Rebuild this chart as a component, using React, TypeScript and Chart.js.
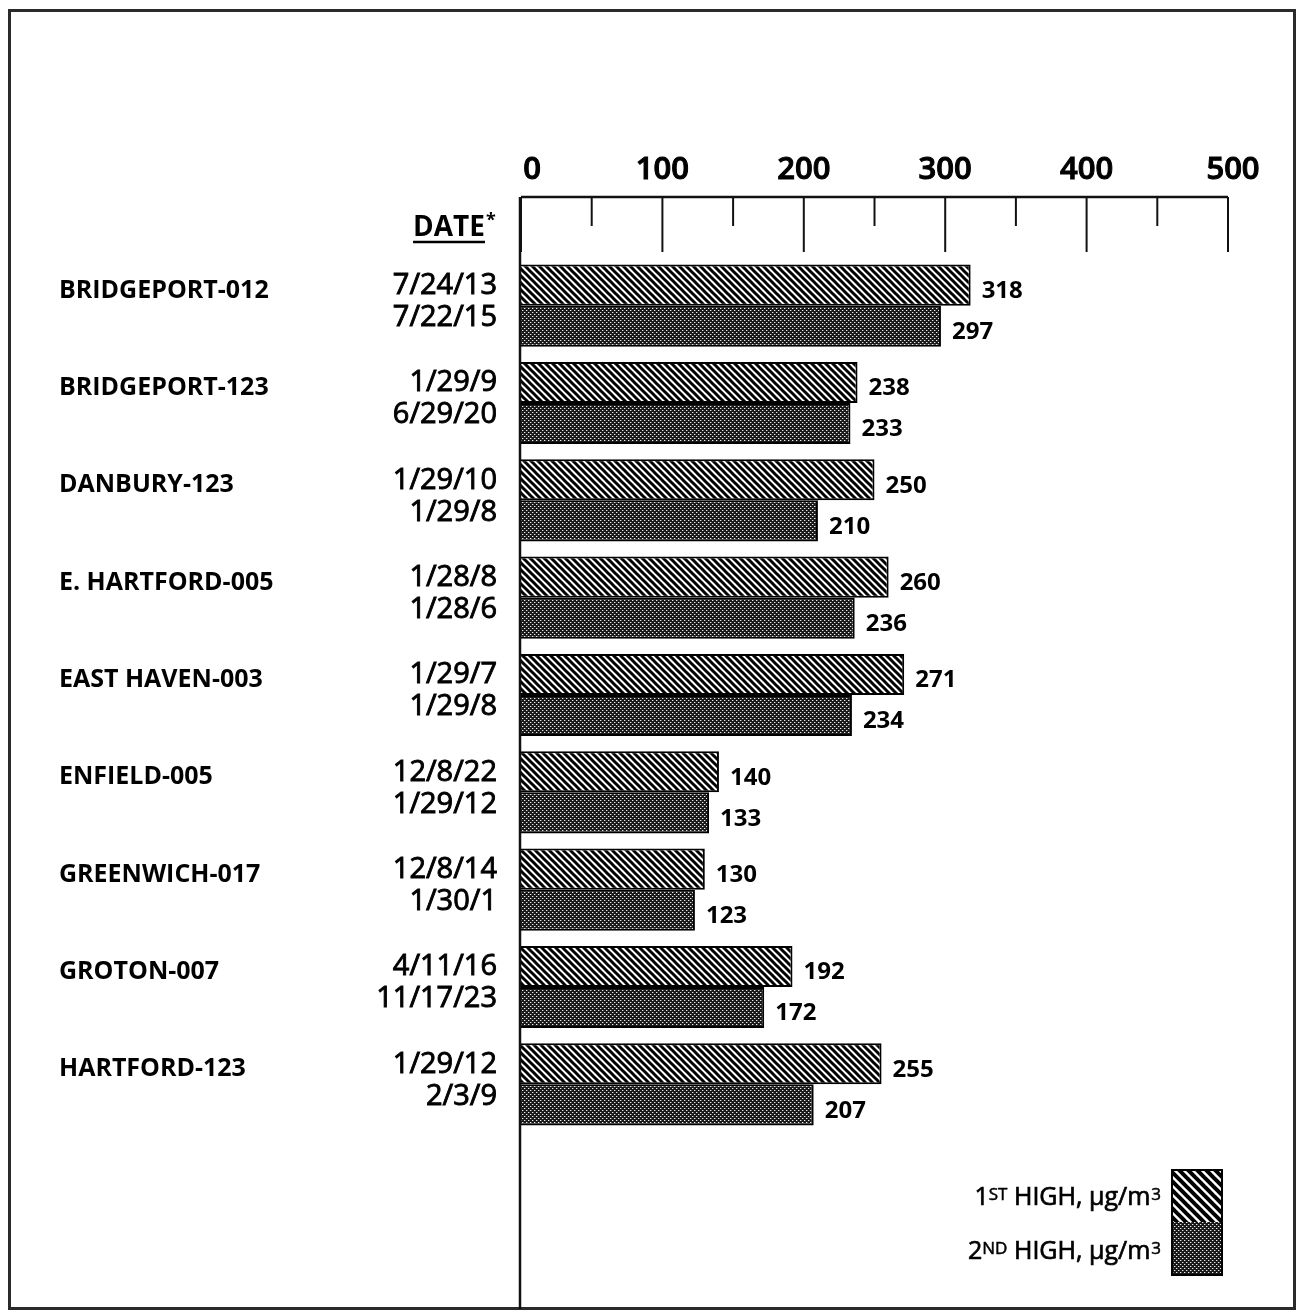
import { useEffect, useRef } from 'react';
import { Chart, registerables } from 'chart.js';

Chart.register(...registerables);

const stations = [
  'BRIDGEPORT-012',
  'BRIDGEPORT-123',
  'DANBURY-123',
  'E. HARTFORD-005',
  'EAST HAVEN-003',
  'ENFIELD-005',
  'GREENWICH-017',
  'GROTON-007',
  'HARTFORD-123',
];
const firstHigh = [318, 238, 250, 260, 271, 140, 130, 192, 255];
const secondHigh = [297, 233, 210, 236, 234, 133, 123, 172, 207];
const firstDates = ['7/24/13', '1/29/9', '1/29/10', '1/28/8', '1/29/7', '12/8/22', '12/8/14', '4/11/16', '1/29/12'];
const secondDates = ['7/22/15', '6/29/20', '1/29/8', '1/28/6', '1/29/8', '1/29/12', '1/30/1', '11/17/23', '2/3/9'];
const rulerMajor = [0, 100, 200, 300, 400, 500];
const rulerMinor = [50, 150, 250, 350, 450];
const legendLabels = [
  { lead: '1', sup: 'ST', rest: ' HIGH, µg/m', unit: '3' },
  { lead: '2', sup: 'ND', rest: ' HIGH, µg/m', unit: '3' },
];
const dateHeader = 'DATE';

const FONT = '"Open Sans", "DejaVu Sans", sans-serif';

function makeHatch(s: number, lw: number): CanvasPattern | string {
  const c = document.createElement('canvas');
  c.width = s;
  c.height = s;
  const g = c.getContext('2d');
  if (!g) return '#888';
  g.fillStyle = '#ffffff';
  g.fillRect(0, 0, s, s);
  g.strokeStyle = '#000000';
  g.lineWidth = lw;
  for (const k of [-s, 0, s]) {
    g.beginPath();
    g.moveTo(k - 2, -2);
    g.lineTo(k + s + 2, s + 2);
    g.stroke();
  }
  return g.createPattern(c, 'repeat') || '#888';
}

function makeStipple(): CanvasPattern | string {
  const s = 4;
  const c = document.createElement('canvas');
  c.width = s;
  c.height = s;
  const g = c.getContext('2d');
  if (!g) return '#444';
  g.fillStyle = '#1a1a1a';
  g.fillRect(0, 0, s, s);
  g.fillStyle = '#eeeeee';
  g.fillRect(0, 0, 1, 1);
  g.fillRect(2, 2, 1, 1);
  g.fillStyle = '#606060';
  g.fillRect(1, 0, 1, 1);
  g.fillRect(3, 2, 1, 1);
  return g.createPattern(c, 'repeat') || '#444';
}

// draw text with a slight stroke to imitate a medium weight
function medText(ctx: CanvasRenderingContext2D, t: string, x: number, y: number, w = 0.7) {
  ctx.fillText(t, x, y);
  ctx.lineWidth = w;
  ctx.strokeText(t, x, y);
}

export default function App() {
  const ref = useRef<HTMLCanvasElement | null>(null);

  useEffect(() => {
    const canvas = ref.current;
    if (!canvas) return;
    const hatch = makeHatch(7, 3.0);
    const legendHatch = makeHatch(9, 4.0);
    const stipple = makeStipple();

    const decor = {
      id: 'decor',
      beforeDraw(chart: any) {
        const ctx = chart.ctx;
        ctx.save();
        ctx.fillStyle = '#ffffff';
        ctx.fillRect(0, 0, chart.width, chart.height);
        ctx.restore();
      },
      afterDraw(chart: any) {
        const ctx: CanvasRenderingContext2D = chart.ctx;
        const xs = chart.scales.x;
        const ys = chart.scales.y;
        const area = chart.chartArea;
        ctx.save();

        // outer frame
        ctx.strokeStyle = '#2a2a2a';
        ctx.lineWidth = 3;
        ctx.strokeRect(9.5, 10.5, 1285, 1298);

        // ruler
        const rulerY = area.top - 60;
        const x0 = xs.getPixelForValue(0);
        ctx.strokeStyle = '#111';
        ctx.lineWidth = 2.5;
        ctx.beginPath();
        ctx.moveTo(x0, rulerY);
        ctx.lineTo(xs.getPixelForValue(500), rulerY);
        ctx.stroke();
        ctx.lineWidth = 2;
        for (const v of rulerMajor) {
          const px = xs.getPixelForValue(v);
          ctx.beginPath();
          ctx.moveTo(px, rulerY);
          ctx.lineTo(px, rulerY + 55);
          ctx.stroke();
        }
        for (const v of rulerMinor) {
          const px = xs.getPixelForValue(v);
          ctx.beginPath();
          ctx.moveTo(px, rulerY);
          ctx.lineTo(px, rulerY + 29);
          ctx.stroke();
        }
        ctx.fillStyle = '#000';
        ctx.strokeStyle = '#000';
        ctx.font = `600 31px ${FONT}`;
        ctx.textAlign = 'center';
        ctx.textBaseline = 'middle';
        for (const v of rulerMajor) {
          const px = xs.getPixelForValue(v);
          const shift = v === 0 ? 11 : v === 500 ? 5 : 0;
          medText(ctx, String(v), px + shift, rulerY - 27, 1.0);
        }

        // vertical axis line
        ctx.strokeStyle = '#111';
        ctx.lineWidth = 2.5;
        ctx.beginPath();
        ctx.moveTo(x0 - 1, rulerY);
        ctx.lineTo(x0 - 1, 1309);
        ctx.stroke();

        // DATE* header
        ctx.strokeStyle = '#000';
        ctx.font = `bold 28px ${FONT}`;
        ctx.textAlign = 'left';
        ctx.textBaseline = 'alphabetic';
        const dw = ctx.measureText(dateHeader).width;
        const dRight = 485;
        ctx.fillText(dateHeader, dRight - dw, 236);
        ctx.lineWidth = 2.5;
        ctx.beginPath();
        ctx.moveTo(dRight - dw, 242);
        ctx.lineTo(dRight, 242);
        ctx.stroke();
        ctx.font = `bold 18px ${FONT}`;
        ctx.fillText('*', dRight + 1, 226);

        // dates
        ctx.font = `29px ${FONT}`;
        ctx.textAlign = 'right';
        ctx.textBaseline = 'middle';
        for (let i = 0; i < stations.length; i++) {
          const cy = ys.getPixelForValue(i);
          medText(ctx, firstDates[i], 497, cy - 20, 0.9);
          medText(ctx, secondDates[i], 497, cy + 12, 0.9);
        }

        // value labels
        ctx.font = `bold 24px ${FONT}`;
        ctx.textAlign = 'left';
        chart.data.datasets.forEach((ds: any, di: number) => {
          const meta = chart.getDatasetMeta(di);
          meta.data.forEach((el: any, i: number) => {
            ctx.fillText(String(ds.data[i]), el.x + 11, el.y + 6);
          });
        });

        // legend
        const boxL = 1172;
        const boxW = 50;
        const boxT = 1170;
        const boxH = 52;
        ctx.fillStyle = legendHatch as any;
        ctx.fillRect(boxL, boxT, boxW, boxH);
        ctx.fillStyle = stipple as any;
        ctx.fillRect(boxL, boxT + boxH, boxW, boxH + 1);
        ctx.strokeStyle = '#000';
        ctx.lineWidth = 2;
        ctx.strokeRect(boxL, boxT, boxW, boxH * 2 + 1);

        ctx.fillStyle = '#000';
        ctx.textBaseline = 'alphabetic';
        ctx.textAlign = 'left';
        legendLabels.forEach((lab, k) => {
          const base = boxT + 26 + k * 54 + 9;
          const big = `25px ${FONT}`;
          const small = `17px ${FONT}`;
          ctx.font = big;
          const wLead = ctx.measureText(lab.lead).width;
          const wRest = ctx.measureText(lab.rest).width;
          ctx.font = small;
          const wSup = ctx.measureText(lab.sup).width;
          const wUnit = ctx.measureText(lab.unit).width;
          let x = 1161 - (wLead + wSup + wRest + wUnit + 1);
          ctx.font = big;
          medText(ctx, lab.lead, x, base, 0.7);
          x += wLead;
          ctx.font = small;
          medText(ctx, lab.sup, x, base - 5, 0.5);
          x += wSup;
          ctx.font = big;
          medText(ctx, lab.rest, x, base, 0.7);
          x += wRest + 1;
          ctx.font = small;
          medText(ctx, lab.unit, x, base - 5, 0.5);
        });

        ctx.restore();
      },
    };

    const chart = new Chart(canvas, {
      type: 'bar',
      data: {
        labels: stations,
        datasets: [
          {
            label: '1ST HIGH, µg/m3',
            data: firstHigh,
            backgroundColor: hatch as any,
            borderColor: '#000',
            borderWidth: 2,
            borderSkipped: 'start',
            categoryPercentage: 0.845,
            barPercentage: 1.0,
          },
          {
            label: '2ND HIGH, µg/m3',
            data: secondHigh,
            backgroundColor: stipple as any,
            borderColor: '#000',
            borderWidth: 2,
            borderSkipped: 'start',
            categoryPercentage: 0.845,
            barPercentage: 1.0,
          },
        ],
      },
      options: {
        indexAxis: 'y',
        responsive: false,
        animation: false,
        devicePixelRatio: 1,
        layout: { padding: { left: 59, right: 72, top: 257, bottom: 183 } },
        plugins: {
          legend: { display: false },
          tooltip: { enabled: false },
        },
        scales: {
          x: { display: false, min: 0, max: 500 },
          y: {
            display: true,
            grid: { display: false, drawTicks: false },
            border: { display: false },
            ticks: {
              crossAlign: 'far',
              labelOffset: -15,
              padding: 0,
              color: '#000',
              font: { family: FONT, size: 25, weight: 'bold' },
            },
            afterFit(scale: any) {
              scale.width = 462;
            },
          },
        },
      },
      plugins: [decor],
    });

    return () => chart.destroy();
  }, []);

  return (
    <div style={{ position: 'absolute', left: 0, top: 0, width: 1300, height: 1316, background: '#fff' }}>
      <canvas ref={ref} width={1300} height={1316} style={{ display: 'block', width: 1300, height: 1316 }} />
    </div>
  );
}
